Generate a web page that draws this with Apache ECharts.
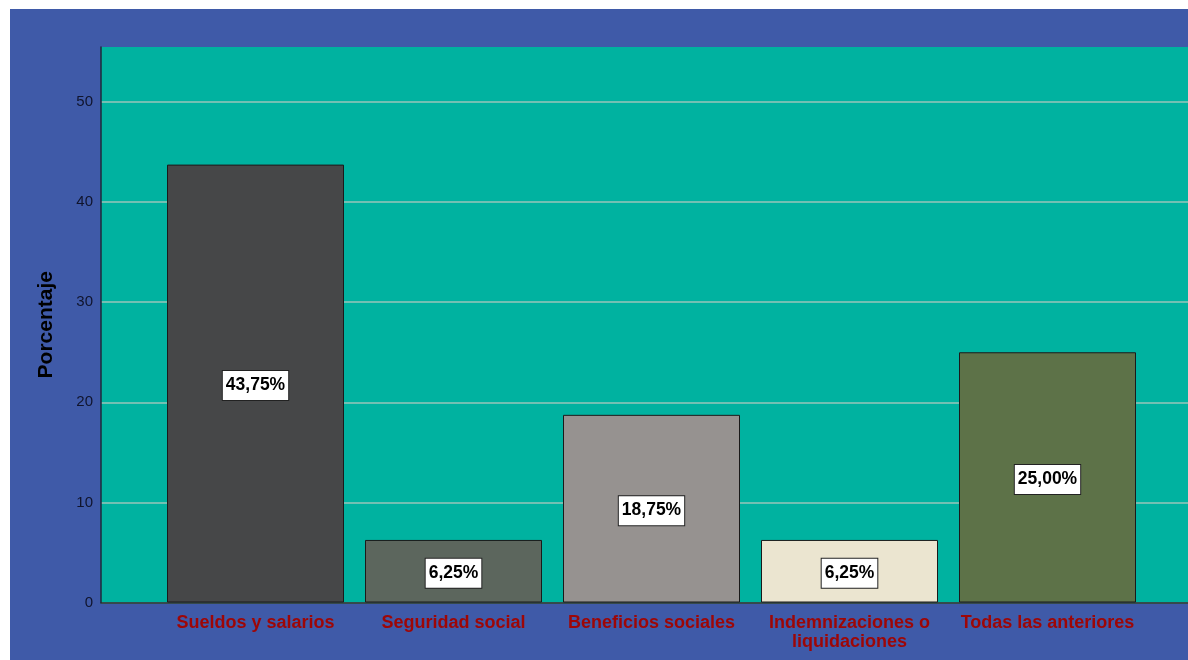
<!DOCTYPE html>
<html>
<head>
<meta charset="utf-8">
<script src="https://cdn.jsdelivr.net/npm/echarts@6/dist/echarts.min.js"></script>
<style>
  html, body { margin: 0; padding: 0; background: #ffffff; }
  #chart { position: absolute; left: 10px; top: 9px; width: 1178px; height: 651px; }
</style>
</head>
<body>
<div id="chart"></div>
<script>
// Categories and percentages
const categories = [
  'Sueldos y salarios',
  'Seguridad social',
  'Beneficios sociales',
  'Indemnizaciones o\nliquidaciones',
  'Todas las anteriores'
];
const percentages = [43.75, 6.25, 18.75, 6.25, 25.00];
const barColors = ['#464748', '#5C665D', '#969290', '#EBE5D0', '#5D7248'];
const yTicks = [0, 10, 20, 30, 40, 50];

const Y_MAX = 55.5;
const sans = 'Arial, "Liberation Sans", sans-serif';
const gridColor = '#98C4BA';

const chart = echarts.init(document.getElementById('chart'));

chart.setOption({
  backgroundColor: '#3F5AA8',
  animation: false,
  grid: [
    // frame: teal panel, y axis and gridlines
    { left: 91, right: 0, top: 38, bottom: 57.5, show: true,
      backgroundColor: '#00B2A0', borderWidth: 0 },
    // bars
    { left: 146.5, right: 41.5, top: 38, bottom: 57.5 }
  ],
  xAxis: [
    { gridIndex: 0, type: 'category', data: [''],
      axisLine: { show: true, lineStyle: { color: '#1E2A2A', width: 1.5 } },
      axisTick: { show: false }, axisLabel: { show: false }, splitLine: { show: false } },
    { gridIndex: 1, type: 'category', data: categories,
      axisLine: { show: false }, axisTick: { show: false },
      axisLabel: {
        interval: 0, margin: 11,
        color: '#9E0606', fontWeight: 'bold', fontSize: 18, lineHeight: 19,
        fontFamily: sans
      } }
  ],
  yAxis: [
    { gridIndex: 0, type: 'value', min: 0, max: Y_MAX, interval: 10,
      name: 'Porcentaje', nameLocation: 'middle', nameGap: 44, nameRotate: 90,
      nameTextStyle: { color: '#000000', fontSize: 21, fontWeight: 'bold', fontFamily: sans },
      axisLine: { show: true, lineStyle: { color: '#1E2A3A', width: 1.5 } },
      axisTick: { show: false },
      axisLabel: { color: '#10142C', fontSize: 15, margin: 8, fontFamily: sans,
        formatter: v => (yTicks.indexOf(v) >= 0 ? String(v) : '') },
      // no line along the top edge of the panel
      splitLine: { show: true, lineStyle: { width: 1.5,
        color: [gridColor, gridColor, gridColor, gridColor, gridColor, gridColor, 'rgba(0,0,0,0)'] } } },
    { gridIndex: 1, type: 'value', min: 0, max: Y_MAX, interval: 10, show: false,
      splitLine: { show: false } }
  ],
  series: [{
    type: 'bar',
    xAxisIndex: 1, yAxisIndex: 1,
    barWidth: 177,
    data: percentages.map((v, i) => ({
      value: v,
      itemStyle: { color: barColors[i], borderColor: '#1A1A1A', borderWidth: 1 }
    })),
    label: {
      show: true, position: 'inside', offset: [0, 2],
      formatter: p => p.value.toFixed(2).replace('.', ',') + '%',
      color: '#000000', fontSize: 17.5, fontWeight: 'bold', fontFamily: sans,
      backgroundColor: '#FFFFFF', borderColor: '#222222', borderWidth: 1,
      padding: [6, 3, 5, 3]
    }
  }]
});
</script>
</body>
</html>
